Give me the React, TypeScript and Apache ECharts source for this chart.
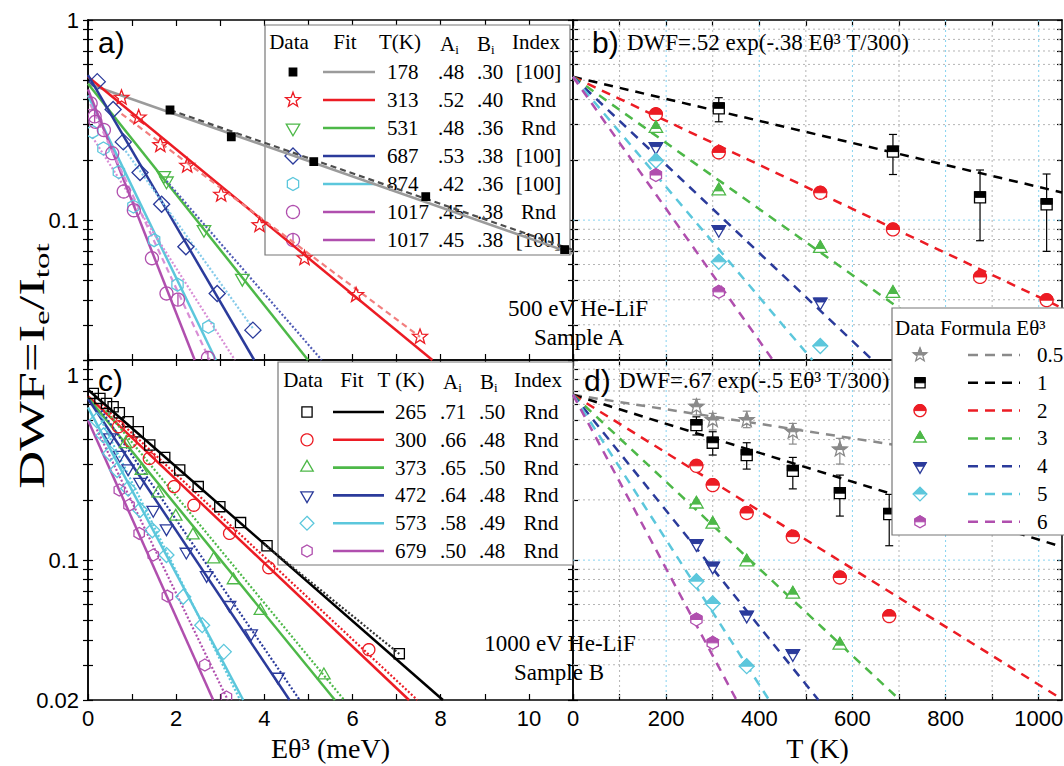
import React, { useEffect, useRef } from 'react';
import * as echarts from 'echarts';

// ---- axis ticks ----
const xTicksE = [0, 1, 2, 3, 4, 5, 6, 7, 8, 9, 10, 11];
const xLabelsE = [0, 2, 4, 6, 8, 10];
const xTicksT = [0, 100, 200, 300, 400, 500, 600, 700, 800, 900, 1000];
const xLabelsT = [0, 200, 400, 600, 800, 1000];
const yTicks = [0.02, 0.03, 0.04, 0.05, 0.06, 0.07, 0.08, 0.09, 0.1, 0.2, 0.3, 0.4, 0.5, 0.6, 0.7, 0.8, 0.9, 1];

// ---- a) 500 eV He-LiF, sample A : [E theta^3 (meV), DWF] ----
const a178 = [[1.86, 0.355], [3.25, 0.261], [5.12, 0.196], [7.66, 0.131], [10.81, 0.0713]];
const a313 = [[0.76, 0.409], [1.15, 0.326], [1.64, 0.237], [2.25, 0.187], [3.02, 0.134], [3.89, 0.0944], [4.91, 0.0645], [6.08, 0.0422], [7.53, 0.0261]];
const a531 = [[1.72, 0.167], [1.78, 0.157], [2.63, 0.0898], [3.5, 0.0512]];
const a687 = [[0.21, 0.492], [0.57, 0.357], [0.8, 0.246], [1.18, 0.173], [1.67, 0.12], [2.22, 0.0736], [2.93, 0.043], [3.74, 0.0282]];
const a874 = [[0.1, 0.276], [0.35, 0.228], [0.7, 0.174], [1.03, 0.117], [1.5, 0.0794], [2.03, 0.0476], [2.73, 0.0293]];
const a1017 = [[0.06, 0.383], [0.17, 0.31], [0.36, 0.282], [0.55, 0.216], [0.81, 0.139], [1.04, 0.112], [1.45, 0.0645], [1.78, 0.043]];
const a1017b = [[0.15, 0.33], [2.04, 0.0401], [2.72, 0.0205]];
// lines, two end points each
const aFit178 = [[0, 0.48], [11, 0.068]];
const aFit313 = [[0, 0.52], [7.81, 0.02]];
const aFit531 = [[0, 0.48], [4.99, 0.02]];
const aFit687 = [[0, 0.53], [3.77, 0.02]];
const aFit874 = [[0, 0.42], [2.9, 0.02]];
const aFit1017 = [[0, 0.45], [2.42, 0.02]];
const aDash178 = [[1.86, 0.355], [11, 0.071]];
const aDash313 = [[0.76, 0.34], [7.53, 0.0261]];
const aDot531 = [[1.78, 0.157], [5.3, 0.02]];
const aDot687 = [[0.8, 0.23], [3.74, 0.0288]];
const aDot874 = [[0.1, 0.26], [3.33, 0.02]];
const aDash1017 = [[0.05, 0.38], [2.76, 0.02]];

// ---- c) 1000 eV He-LiF, sample B ----
const c265 = [[0.12, 0.681], [0.27, 0.643], [0.42, 0.607], [0.57, 0.584], [0.71, 0.545], [0.91, 0.492], [1.14, 0.438], [1.4, 0.376], [1.74, 0.326], [2.08, 0.282], [2.5, 0.233], [2.99, 0.185], [3.46, 0.154], [4.06, 0.118], [7.06, 0.0341]];
const c300 = [[0.69, 0.464], [0.97, 0.391], [1.39, 0.322], [1.95, 0.233], [2.4, 0.188], [3.21, 0.136], [4.1, 0.0916], [6.37, 0.0357]];
const c373 = [[0.85, 0.38], [1.21, 0.28], [1.59, 0.216], [1.99, 0.165], [2.38, 0.133], [2.85, 0.101], [3.3, 0.0794], [3.91, 0.0558], [5.35, 0.0266]];
const c472 = [[0.5, 0.41], [0.72, 0.335], [0.91, 0.287], [1.18, 0.246], [1.48, 0.178], [1.78, 0.144], [2.23, 0.11], [2.69, 0.0841], [3.21, 0.0596], [3.7, 0.043], [4.31, 0.0261]];
const c573 = [[0.2, 0.5], [0.35, 0.42], [0.5, 0.341], [0.66, 0.282], [0.91, 0.228], [1.18, 0.178], [1.46, 0.141], [1.78, 0.106], [2.16, 0.0656], [2.59, 0.0473], [3.08, 0.0348]];
const c679 = [[0.71, 0.224], [0.93, 0.188], [1.16, 0.136], [1.48, 0.106], [1.8, 0.0661], [2.65, 0.0299], [3.14, 0.0207]];
const cFit265 = [[0, 0.71], [8.05, 0.02]];
const cFit300 = [[0, 0.66], [7.28, 0.02]];
const cFit373 = [[0, 0.65], [5.6, 0.02]];
const cFit472 = [[0, 0.64], [4.57, 0.02]];
const cFit573 = [[0, 0.58], [3.52, 0.02]];
const cFit679 = [[0, 0.5], [2.84, 0.02]];
const cDot265 = [[4.0, 0.12], [7.06, 0.034]];
const cDot300 = [[0.3, 0.6], [7.47, 0.02]];
const cDot373 = [[0.4, 0.56], [5.81, 0.02]];
const cDot472 = [[0.3, 0.56], [4.8, 0.02]];
const cDot573 = [[0.3, 0.5], [3.45, 0.02]];
const cDot679 = [[0.2, 0.45], [3.17, 0.02]];

// ---- b) sample A vs T (K): [T, DWF, err top, err bottom] ----
const bSq = [[313, 0.362, 0.409, 0.31], [687, 0.22, 0.268, 0.169], [874, 0.13, 0.178, 0.0789], [1017, 0.12, 0.17, 0.0698]];
const bCirc = [[178, 0.338], [313, 0.218], [531, 0.137], [687, 0.0898], [874, 0.052], [1017, 0.0398]];
const bUp = [[178, 0.287], [313, 0.14], [531, 0.0722], [687, 0.043]];
const bDown = [[178, 0.233], [313, 0.0898], [531, 0.039]];
const bDia = [[178, 0.198], [313, 0.0619], [531, 0.0235]];
const bHex = [[178, 0.168], [313, 0.0438]];
const bLine1 = [[0, 0.52], [1050, 0.1375]];
const bLine2 = [[0, 0.52], [1050, 0.0364]];
const bLine3 = [[0, 0.52], [857, 0.02]];
const bLine4 = [[0, 0.52], [643, 0.02]];
const bLine5 = [[0, 0.52], [514, 0.02]];
const bLine6 = [[0, 0.52], [429, 0.02]];

// ---- d) sample B vs T (K) ----
const dStar = [[265, 0.584, 0.636, 0.531], [300, 0.501, 0.541, 0.447], [373, 0.501, 0.555, 0.459], [472, 0.438, 0.482, 0.38], [573, 0.357, 0.406, 0.302]];
const dSq = [[265, 0.473, 0.52, 0.422], [300, 0.386, 0.438, 0.335], [373, 0.335, 0.386, 0.285], [472, 0.279, 0.326, 0.227], [573, 0.216, 0.266, 0.166], [679, 0.17, 0.213, 0.118]];
const dCirc = [[265, 0.296], [300, 0.237], [373, 0.172], [472, 0.131], [573, 0.0819], [679, 0.0525]];
const dUp = [[265, 0.1905], [300, 0.151], [373, 0.098], [472, 0.0676], [573, 0.0376]];
const dDown = [[265, 0.121], [300, 0.0933], [373, 0.0531], [472, 0.0341]];
const dDia = [[265, 0.0785], [300, 0.0607], [373, 0.0295]];
const dHex = [[265, 0.0505], [300, 0.0386]];
const dLine05 = [[0, 0.67], [1050, 0.279]];
const dLine1 = [[0, 0.67], [1050, 0.1164]];
const dLine2 = [[0, 0.67], [1050, 0.0202]];
const dLine3 = [[0, 0.67], [702, 0.02]];
const dLine4 = [[0, 0.67], [527, 0.02]];
const dLine5 = [[0, 0.67], [421, 0.02]];
const dLine6 = [[0, 0.67], [351, 0.02]];

// ---- legend tables ----
const tableA = [
  ['178', '.48', '.30', '[100]'],
  ['313', '.52', '.40', 'Rnd'],
  ['531', '.48', '.36', 'Rnd'],
  ['687', '.53', '.38', '[100]'],
  ['874', '.42', '.36', '[100]'],
  ['1017', '.45', '.38', 'Rnd'],
  ['1017', '.45', '.38', '[100]'],
];
const tableC = [
  ['265', '.71', '.50', 'Rnd'],
  ['300', '.66', '.48', 'Rnd'],
  ['373', '.65', '.50', 'Rnd'],
  ['472', '.64', '.48', 'Rnd'],
  ['573', '.58', '.49', 'Rnd'],
  ['679', '.50', '.48', 'Rnd'],
];
const formulaD = ['0.5', '1', '2', '3', '4', '5', '6'];

const COL = {
  black: '#000000',
  gray: '#9b9b9b',
  red: '#ec1c24',
  green: '#4db848',
  blue: '#2b3b9b',
  cyan: '#5cc7dc',
  magenta: '#b04fae',
};
const SERIF = 'Liberation Serif';
const SANS = 'Liberation Sans';
const GRID_GREY = '#b4b4b4';
const GRID_BLUE = '#86d3f0';

const X_IDX = [0, 2, 4, 6];
const Y_IDX = [0, 3, 5, 8];
const Y_MIN = Math.log10(0.02);
const lg = (v: number) => Math.log10(v);

function shapePts(shape: string, r: number): number[][] {
  const ring = (n: number, start: number, rad: number) => {
    const out: number[][] = [];
    for (let k = 0; k < n; k++) {
      const a = start + (2 * Math.PI * k) / n;
      out.push([rad * Math.cos(a), rad * Math.sin(a)]);
    }
    return out;
  };
  const s = r * 0.85;
  switch (shape) {
    case 'square':
      return [[-s, -s], [s, -s], [s, s], [-s, s]];
    case 'up':
      return ring(3, -Math.PI / 2, r * 1.2);
    case 'down':
      return ring(3, Math.PI / 2, r * 1.2);
    case 'diamond':
      return ring(4, -Math.PI / 2, r * 1.15);
    case 'hex':
      return ring(6, -Math.PI / 2, r);
    case 'star': {
      const out: number[][] = [];
      for (let k = 0; k < 10; k++) {
        const a = -Math.PI / 2 + (Math.PI * k) / 5;
        const rad = k % 2 === 0 ? r * 1.2 : r * 0.5;
        out.push([rad * Math.cos(a), rad * Math.sin(a)]);
      }
      return out;
    }
    default:
      return ring(32, 0, r);
  }
}

// upper half of a polygon (y <= 0)
function topHalf(pts: number[][]) {
  const out: number[][] = [];
  for (let i = 0; i < pts.length; i++) {
    const a = pts[i];
    const b = pts[(i + 1) % pts.length];
    const ain = a[1] <= 1e-9;
    const bin = b[1] <= 1e-9;
    if (ain) out.push(a);
    if (ain !== bin) {
      const t = a[1] / (a[1] - b[1]);
      out.push([a[0] + t * (b[0] - a[0]), 0]);
    }
  }
  return out;
}

function markerEls(shape: string, mode: string, color: string, r: number, cx: number, cy: number) {
  const p = shapePts(shape, r);
  const els: any[] = [];
  if (mode === 'half') {
    els.push({ type: 'polygon', x: cx, y: cy, shape: { points: p }, style: { fill: '#fff', stroke: color, lineWidth: 1.3 } });
    els.push({ type: 'polygon', x: cx, y: cy, shape: { points: topHalf(p) }, style: { fill: color, stroke: color, lineWidth: 1 } });
  } else {
    els.push({ type: 'polygon', x: cx, y: cy, shape: { points: p }, style: { fill: mode === 'fill' ? color : 'none', stroke: color, lineWidth: 1.3 } });
  }
  if (shape === 'circleBar') {
    els.push({ type: 'line', x: cx, y: cy, shape: { x1: 0, y1: -r, x2: 0, y2: r }, style: { stroke: color, lineWidth: 1.3 } });
  }
  return els;
}

function lineSeries(g: number, data: number[][], color: string, dash: any, width = 2.5, z = 3) {
  return {
    type: 'line',
    xAxisIndex: X_IDX[g],
    yAxisIndex: Y_IDX[g],
    data: data.map((d) => [d[0], lg(d[1])]),
    symbol: 'none',
    showSymbol: false,
    silent: true,
    clip: true,
    z,
    lineStyle: { color, width, type: dash, cap: 'butt' },
  };
}

function markerSeries(g: number, data: number[][], shape: string, color: string, mode: string, r: number, errColor?: string) {
  return {
    type: 'custom',
    xAxisIndex: X_IDX[g],
    yAxisIndex: Y_IDX[g],
    clip: true,
    silent: true,
    z: 5,
    data: data.map((d) => (d.length > 2 ? [d[0], lg(d[1]), lg(d[2]), lg(d[3])] : [d[0], lg(d[1])])),
    renderItem: (params: any, api: any) => {
      const p = api.coord([api.value(0), api.value(1)]);
      const children: any[] = [];
      if (errColor) {
        const hi = api.coord([api.value(0), api.value(2)]);
        const lo = api.coord([api.value(0), api.value(3)]);
        const st = { stroke: errColor, lineWidth: 1.2 };
        children.push({ type: 'line', shape: { x1: p[0], y1: hi[1], x2: p[0], y2: lo[1] }, style: st });
        children.push({ type: 'line', shape: { x1: p[0] - 4, y1: hi[1], x2: p[0] + 4, y2: hi[1] }, style: st });
        children.push({ type: 'line', shape: { x1: p[0] - 4, y1: lo[1], x2: p[0] + 4, y2: lo[1] }, style: st });
      }
      markerEls(shape, mode, color, r, p[0], p[1]).forEach((e) => children.push(e));
      return { type: 'group', children };
    },
  };
}

function gridLineSeries(g: number) {
  const vData = xTicksT.filter((v) => v > 0).map((v) => [v, -1, 0]);
  const hData = yTicks.filter((v) => v > 0.02 && v < 1).map((v) => [500, lg(v), 1]);
  return {
    type: 'custom',
    xAxisIndex: X_IDX[g],
    yAxisIndex: Y_IDX[g],
    silent: true,
    z: 1,
    data: vData.concat(hData),
    renderItem: (params: any, api: any) => {
      const cs = params.coordSys;
      if (api.value(2) === 0) {
        const v = api.value(0);
        const x = api.coord([v, -1])[0];
        return {
          type: 'line',
          shape: { x1: x, y1: cs.y, x2: x, y2: cs.y + cs.height },
          style: { stroke: v % 200 === 0 ? GRID_BLUE : GRID_GREY, lineWidth: 1, lineDash: [2, 3] },
        };
      }
      const yv = api.value(1);
      const y = api.coord([500, yv])[1];
      return {
        type: 'line',
        shape: { x1: cs.x, y1: y, x2: cs.x + cs.width, y2: y },
        style: { stroke: Math.abs(yv + 1) < 1e-6 ? GRID_BLUE : GRID_GREY, lineWidth: 1, lineDash: [2, 3] },
      };
    },
  };
}

const axisLineStyle = { color: '#000', width: 1.5 };
const tickLineStyle = { color: '#000', width: 1.2 };

function xAxis(g: number, position: string, max: number, ticks: number[], labels?: number[], name?: string) {
  return {
    type: 'value',
    gridIndex: g,
    position,
    min: 0,
    max,
    axisLine: { show: true, onZero: false, lineStyle: axisLineStyle },
    axisTick: { show: true, inside: true, length: 6, customValues: ticks, lineStyle: tickLineStyle },
    axisLabel: labels
      ? {
          show: true,
          customValues: labels,
          margin: 7,
          fontFamily: SANS,
          fontSize: 22,
          color: '#000',
          formatter: (v: number) => String(Math.round(v)),
        }
      : { show: false },
    splitLine: { show: false },
    name,
    nameLocation: 'middle',
    nameGap: 34,
    nameTextStyle: { fontFamily: SERIF, fontSize: 28, color: '#000' },
  };
}

function yAxis(g: number, position: string, inside: boolean, labels?: number[], shiftTop?: boolean) {
  return {
    type: 'value',
    gridIndex: g,
    position,
    min: Y_MIN,
    max: 0,
    axisLine: { show: true, onZero: false, lineStyle: axisLineStyle },
    axisTick: { show: true, inside, length: 5, customValues: yTicks.map(lg), lineStyle: tickLineStyle },
    axisLabel: labels
      ? {
          show: true,
          customValues: labels.map(lg),
          margin: 9,
          fontFamily: SANS,
          fontSize: 22,
          color: '#000',
          formatter: (v: number) => {
            const r = Math.pow(10, v);
            if (r > 0.5) return shiftTop ? '{lo|1}' : '1';
            return r > 0.05 ? '0.1' : '0.02';
          },
          rich: { lo: { fontFamily: SANS, fontSize: 22, color: '#000', padding: [30, 0, 0, 0] } },
        }
      : { show: false },
    splitLine: { show: false },
  };
}

function buildGraphic() {
  const els: any[] = [];
  const text = (x: number, y: number, t: string, size: number, align: string, family: string, z: number, more: any = {}) =>
    els.push({
      type: 'text',
      x,
      y,
      z,
      silent: true,
      style: { text: t, fontSize: size, fontFamily: family, fill: '#000', align, verticalAlign: 'middle', textAlign: align, textVerticalAlign: 'middle', ...more },
    });
  const subRich = {
    m: { fontSize: 21, fontFamily: SERIF, color: '#000', fill: '#000', lineHeight: 24 },
    s: { fontSize: 13, fontFamily: SERIF, color: '#000', fill: '#000', lineHeight: 13, verticalAlign: 'bottom' },
  };
  const push = (arr: any[], z: number) => arr.forEach((e) => els.push({ ...e, z, silent: true }));

  // table a
  els.push({ type: 'rect', z: 1, silent: true, shape: { x: 265, y: 25, width: 305, height: 230 }, style: { fill: '#fff', stroke: '#777', lineWidth: 1.2 } });
  text(289, 42, 'Data', 21, 'center', SERIF, 1.5);
  text(345, 42, 'Fit', 21, 'center', SERIF, 1.5);
  text(400, 42, 'T(K)', 21, 'center', SERIF, 1.5);
  text(440, 44, '{m|A}{s|i}', 21, 'left', SERIF, 1.5, { rich: subRich });
  text(477, 44, '{m|B}{s|i}', 21, 'left', SERIF, 1.5, { rich: subRich });
  text(536, 42, 'Index', 21, 'center', SERIF, 1.5);
  const aStyles = [
    { shape: 'square', mode: 'fill', color: COL.black, r: 4.4, line: COL.gray },
    { shape: 'star', mode: 'open', color: COL.red, r: 6.5, line: COL.red },
    { shape: 'down', mode: 'open', color: COL.green, r: 6.5, line: COL.green },
    { shape: 'diamond', mode: 'open', color: COL.blue, r: 7, line: COL.blue },
    { shape: 'hex', mode: 'open', color: COL.cyan, r: 6.5, line: COL.cyan },
    { shape: 'circle', mode: 'open', color: COL.magenta, r: 6.5, line: COL.magenta },
    { shape: 'circleBar', mode: 'open', color: COL.magenta, r: 6.5, line: COL.magenta },
  ];
  tableA.forEach((row, i) => {
    const y = 72 + 28 * i;
    const st = aStyles[i];
    push(markerEls(st.shape, st.mode, st.color, st.r, 293, y), 1.5);
    els.push({ type: 'line', z: 1.5, silent: true, shape: { x1: 323, y1: y, x2: 375, y2: y }, style: { stroke: st.line, lineWidth: 2.6 } });
    text(387, y, row[0], 21, 'left', SERIF, 1.5);
    text(438, y, row[1], 21, 'left', SERIF, 1.5);
    text(477, y, row[2], 21, 'left', SERIF, 1.5);
    text(538.5, y, row[3], 21, 'center', SERIF, 1.5);
  });

  // table c
  els.push({ type: 'rect', z: 1, silent: true, shape: { x: 278, y: 362, width: 295, height: 203 }, style: { fill: '#fff', stroke: '#777', lineWidth: 1.2 } });
  text(303, 380, 'Data', 21, 'center', SERIF, 1.5);
  text(352, 380, 'Fit', 21, 'center', SERIF, 1.5);
  text(401, 380, 'T (K)', 21, 'center', SERIF, 1.5);
  text(443, 382, '{m|A}{s|i}', 21, 'left', SERIF, 1.5, { rich: subRich });
  text(480, 382, '{m|B}{s|i}', 21, 'left', SERIF, 1.5, { rich: subRich });
  text(538, 380, 'Index', 21, 'center', SERIF, 1.5);
  const cStyles = [
    { shape: 'square', color: COL.black },
    { shape: 'circle', color: COL.red },
    { shape: 'up', color: COL.green },
    { shape: 'down', color: COL.blue },
    { shape: 'diamond', color: COL.cyan },
    { shape: 'hex', color: COL.magenta },
  ];
  tableC.forEach((row, i) => {
    const y = 412 + 27.8 * i;
    const st = cStyles[i];
    push(markerEls(st.shape, 'open', st.color, 6, 307, y), 1.5);
    els.push({ type: 'line', z: 1.5, silent: true, shape: { x1: 333, y1: y, x2: 384, y2: y }, style: { stroke: st.color, lineWidth: 2.6 } });
    text(395, y, row[0], 21, 'left', SERIF, 1.5);
    text(440, y, row[1], 21, 'left', SERIF, 1.5);
    text(479, y, row[2], 21, 'left', SERIF, 1.5);
    text(541, y, row[3], 21, 'center', SERIF, 1.5);
  });

  // legend d
  els.push({ type: 'rect', z: 20, silent: true, shape: { x: 892, y: 308, width: 200, height: 227 }, style: { fill: '#fff', stroke: '#777', lineWidth: 1.2 } });
  text(895, 328, 'Data Formula Eθ³', 21, 'left', SERIF, 21);
  const dStyles = [
    { shape: 'star', color: '#8a8a8a' },
    { shape: 'square', color: COL.black },
    { shape: 'circle', color: COL.red },
    { shape: 'up', color: COL.green },
    { shape: 'down', color: COL.blue },
    { shape: 'diamond', color: COL.cyan },
    { shape: 'hex', color: COL.magenta },
  ];
  formulaD.forEach((t, i) => {
    const y = 355 + 27.8 * i;
    const st = dStyles[i];
    push(markerEls(st.shape, 'half', st.color, 6, 920, y), 21);
    els.push({ type: 'line', z: 21, silent: true, shape: { x1: 968, y1: y, x2: 1020, y2: y }, style: { stroke: st.color, lineWidth: 2.5, lineDash: [10, 7] } });
    text(1037, y, t, 21, 'left', SERIF, 21);
  });

  // panel labels and formulas
  text(98, 42, 'a)', 30, 'left', SANS, 30);
  text(592, 42, 'b)', 30, 'left', SANS, 30);
  text(627, 42, 'DWF=.52 exp(-.38 Eθ³ T/300)', 23, 'left', SERIF, 30);
  text(98, 380, 'c)', 30, 'left', SANS, 30);
  text(584, 380, 'd)', 30, 'left', SANS, 30);
  text(619, 380, 'DWF=.67 exp(-.5 Eθ³ T/300)', 23, 'left', SERIF, 30);
  text(578, 308, '500 eV He-LiF', 23, 'center', SERIF, 30);
  text(579, 337, 'Sample A', 23, 'center', SERIF, 30);
  text(560, 643, '1000 eV He-LiF', 23, 'center', SERIF, 30);
  text(559, 672, 'Sample B', 23, 'center', SERIF, 30);

  // y axis title
  els.push({
    type: 'text',
    x: 32,
    y: 366,
    rotation: Math.PI / 2,
    scaleX: 1.5,
    z: 30,
    silent: true,
    style: {
      text: '{m|DWF=I}{s|e}{m|/I}{s|tot}',
      align: 'center',
      verticalAlign: 'middle',
      textAlign: 'center',
      textVerticalAlign: 'middle',
      fill: '#000',
      rich: {
        m: { fontSize: 35, fontFamily: SERIF, fill: '#000', color: '#000', lineHeight: 42 },
        s: { fontSize: 22, fontFamily: SERIF, fill: '#000', color: '#000', lineHeight: 24, verticalAlign: 'bottom' },
      },
    },
  });
  return els;
}

function buildOption() {
  const series: any[] = [];
  // a
  series.push(lineSeries(0, aFit178, COL.gray, 'solid'));
  series.push(lineSeries(0, aDash178, '#4d4d4d', [6, 4], 2.2));
  series.push(lineSeries(0, aFit313, COL.red, 'solid'));
  series.push(lineSeries(0, aDash313, '#f27f7f', [6, 4], 2.2));
  series.push(lineSeries(0, aFit531, COL.green, 'solid'));
  series.push(lineSeries(0, aDot531, '#4f5bb5', [2, 2], 2.2));
  series.push(lineSeries(0, aFit687, COL.blue, 'solid'));
  series.push(lineSeries(0, aDot687, '#86cbea', [2, 2], 2.2));
  series.push(lineSeries(0, aFit874, COL.cyan, 'solid'));
  series.push(lineSeries(0, aDot874, '#d98fd6', [2, 2], 2.2));
  series.push(lineSeries(0, aFit1017, COL.magenta, 'solid'));
  series.push(lineSeries(0, aDash1017, '#d98fd6', [6, 4], 2.2));
  series.push(markerSeries(0, a178, 'square', COL.black, 'fill', 4.4));
  series.push(markerSeries(0, a313, 'star', COL.red, 'open', 6.5));
  series.push(markerSeries(0, a531, 'down', COL.green, 'open', 6.5));
  series.push(markerSeries(0, a687, 'diamond', COL.blue, 'open', 7));
  series.push(markerSeries(0, a874, 'hex', COL.cyan, 'open', 6.5));
  series.push(markerSeries(0, a1017, 'circle', COL.magenta, 'open', 6.5));
  series.push(markerSeries(0, a1017b, 'circleBar', COL.magenta, 'open', 6.5));

  // b
  series.push(gridLineSeries(1));
  const bDash = [9, 7];
  series.push(lineSeries(1, bLine1, COL.black, bDash));
  series.push(lineSeries(1, bLine2, COL.red, bDash));
  series.push(lineSeries(1, bLine3, COL.green, bDash));
  series.push(lineSeries(1, bLine4, COL.blue, bDash));
  series.push(lineSeries(1, bLine5, COL.cyan, bDash));
  series.push(lineSeries(1, bLine6, COL.magenta, bDash));
  series.push(markerSeries(1, bSq, 'square', COL.black, 'half', 6.5, '#000'));
  series.push(markerSeries(1, bCirc, 'circle', COL.red, 'half', 6.5));
  series.push(markerSeries(1, bUp, 'up', COL.green, 'half', 6.5));
  series.push(markerSeries(1, bDown, 'down', COL.blue, 'half', 6.5));
  series.push(markerSeries(1, bDia, 'diamond', COL.cyan, 'half', 6.5));
  series.push(markerSeries(1, bHex, 'hex', COL.magenta, 'half', 6.5));

  // c
  const dot = [2, 2];
  series.push(lineSeries(2, cFit265, COL.black, 'solid'));
  series.push(lineSeries(2, cDot265, '#333', dot, 2.2));
  series.push(lineSeries(2, cFit300, COL.red, 'solid'));
  series.push(lineSeries(2, cDot300, COL.red, dot, 2.2));
  series.push(lineSeries(2, cFit373, COL.green, 'solid'));
  series.push(lineSeries(2, cDot373, COL.green, dot, 2.2));
  series.push(lineSeries(2, cFit472, COL.blue, 'solid'));
  series.push(lineSeries(2, cDot472, COL.blue, dot, 2.2));
  series.push(lineSeries(2, cFit573, COL.cyan, 'solid'));
  series.push(lineSeries(2, cDot573, COL.cyan, dot, 2.2));
  series.push(lineSeries(2, cFit679, COL.magenta, 'solid'));
  series.push(lineSeries(2, cDot679, COL.magenta, dot, 2.2));
  series.push(markerSeries(2, c265, 'square', COL.black, 'open', 6));
  series.push(markerSeries(2, c300, 'circle', COL.red, 'open', 6));
  series.push(markerSeries(2, c373, 'up', COL.green, 'open', 6));
  series.push(markerSeries(2, c472, 'down', COL.blue, 'open', 6));
  series.push(markerSeries(2, c573, 'diamond', COL.cyan, 'open', 6.5));
  series.push(markerSeries(2, c679, 'hex', COL.magenta, 'open', 6));

  // d
  series.push(gridLineSeries(3));
  series.push(lineSeries(3, dLine05, '#8a8a8a', bDash));
  series.push(lineSeries(3, dLine1, COL.black, bDash));
  series.push(lineSeries(3, dLine2, COL.red, bDash));
  series.push(lineSeries(3, dLine3, COL.green, bDash));
  series.push(lineSeries(3, dLine4, COL.blue, bDash));
  series.push(lineSeries(3, dLine5, COL.cyan, bDash));
  series.push(lineSeries(3, dLine6, COL.magenta, bDash));
  series.push(markerSeries(3, dStar, 'star', '#8a8a8a', 'half', 6.5, '#8a8a8a'));
  series.push(markerSeries(3, dSq, 'square', COL.black, 'half', 6.5, '#000'));
  series.push(markerSeries(3, dCirc, 'circle', COL.red, 'half', 6.5));
  series.push(markerSeries(3, dUp, 'up', COL.green, 'half', 6.5));
  series.push(markerSeries(3, dDown, 'down', COL.blue, 'half', 6.5));
  series.push(markerSeries(3, dDia, 'diamond', COL.cyan, 'half', 6.5));
  series.push(markerSeries(3, dHex, 'hex', COL.magenta, 'half', 6.5));

  return {
    animation: false,
    backgroundColor: '#fff',
    grid: [
      { left: 88, top: 20, width: 485, height: 340, outerBoundsMode: 'none', containLabel: false },
      { left: 573, top: 20, width: 489, height: 340, outerBoundsMode: 'none', containLabel: false },
      { left: 88, top: 360, width: 485, height: 340, outerBoundsMode: 'none', containLabel: false },
      { left: 573, top: 360, width: 489, height: 340, outerBoundsMode: 'none', containLabel: false },
    ],
    xAxis: [
      xAxis(0, 'bottom', 11, xTicksE),
      xAxis(0, 'top', 11, xTicksE),
      xAxis(1, 'bottom', 1050, xTicksT),
      xAxis(1, 'top', 1050, xTicksT),
      xAxis(2, 'bottom', 11, xTicksE, xLabelsE, 'Eθ³ (meV)'),
      xAxis(2, 'top', 11, xTicksE),
      xAxis(3, 'bottom', 1050, xTicksT, xLabelsT, 'T (K)'),
      xAxis(3, 'top', 1050, xTicksT),
    ],
    yAxis: [
      yAxis(0, 'left', false, [0.1, 1]),
      yAxis(0, 'left', true),
      yAxis(0, 'right', true),
      yAxis(1, 'left', true),
      yAxis(1, 'right', true),
      yAxis(2, 'left', false, [0.02, 0.1, 1], true),
      yAxis(2, 'left', true),
      yAxis(2, 'right', true),
      yAxis(3, 'left', true),
      yAxis(3, 'right', true),
    ],
    graphic: { elements: buildGraphic() },
    series,
  };
}

export default function App() {
  const ref = useRef<HTMLDivElement>(null);

  useEffect(() => {
    if (!ref.current) return;
    const chart = echarts.init(ref.current, undefined, { renderer: 'svg' });
    chart.setOption(buildOption() as any);
    return () => {
      chart.dispose();
    };
  }, []);

  return (
    <div
      ref={ref}
      style={{ position: 'fixed', left: 0, top: 0, width: 1064, height: 766, background: '#fff' }}
    />
  );
}
